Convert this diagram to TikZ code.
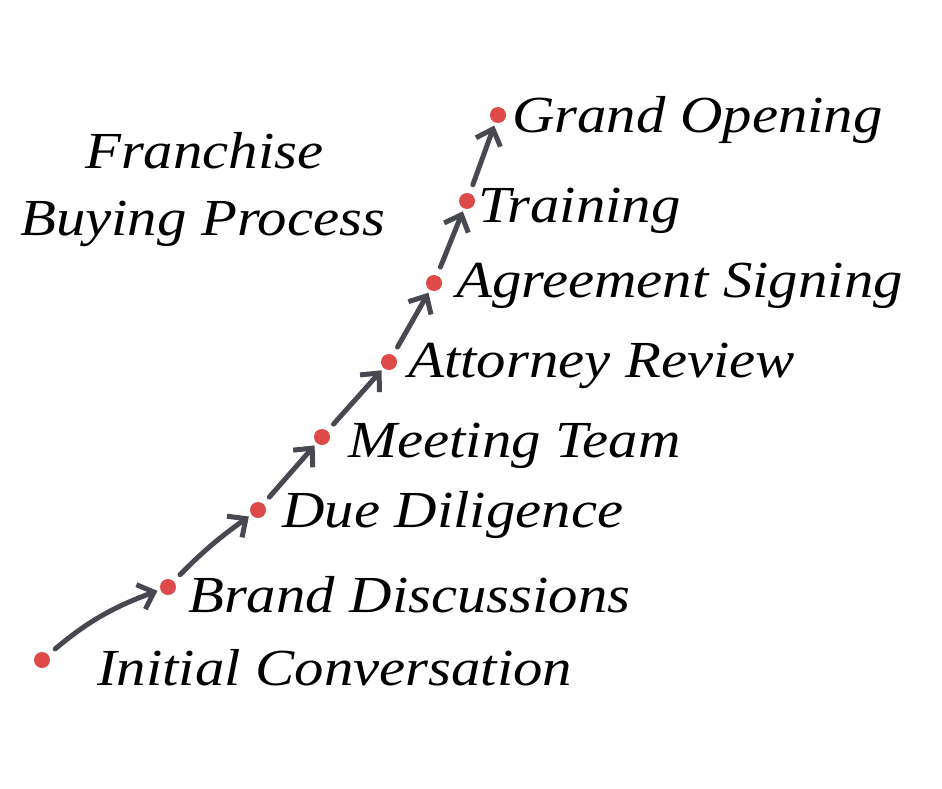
\documentclass[tikz,border=0pt]{standalone}
\usepackage{fontspec}
\setmainfont{Liberation Serif}[FakeStretch=1.13]
\usetikzlibrary{arrows.meta}
\definecolor{dotred}{RGB}{222,74,74}
\definecolor{arrowgray}{RGB}{72,72,80}
\tikzset{
  stepdot/.style={circle,fill=dotred,inner sep=0pt,minimum size=16pt},
  steplabel/.style={anchor=base west,inner sep=0pt,font=\fontsize{52}{60}\selectfont\itshape},
  arr/.style={draw=arrowgray,line width=5pt,line cap=round,
    -{Straight Barb[length=14pt,width=26pt,line width=5pt]},shorten <=9pt,shorten >=3pt},
}
\begin{document}
\begin{tikzpicture}[x=1pt,y=-1pt]
\useasboundingbox (0,0) rectangle (942,789);

% title
\node[steplabel] (title1) at (85,168) {Franchise};
\node[steplabel] (title2) at (20,235) {Buying Process};

% dots
\node[stepdot] (initconv) at (42,660) {};
\node[stepdot] (brand) at (168,587) {};
\node[stepdot] (due) at (258,510) {};
\node[stepdot] (meet) at (322,437) {};
\node[stepdot] (attorney) at (389,362) {};
\node[stepdot] (agree) at (434,283) {};
\node[stepdot] (train) at (467,201) {};
\node[stepdot] (grand) at (498,115) {};

% labels
\node[steplabel] (l1) at (97,685) {Initial Conversation};
\node[steplabel] (l2) at (188,612) {Brand Discussions};
\node[steplabel] (l3) at (282,527) {Due Diligence};
\node[steplabel] (l4) at (348,457) {Meeting Team};
\node[steplabel] (l5) at (408,377) {Attorney Review};
\node[steplabel] (l6) at (456,297) {Agreement Signing};
\node[steplabel] (l7) at (478,222) {Training};
\node[steplabel] (l8) at (512,133) {Grand Opening};

% arrows
\draw[arr] (initconv) to[bend left=10] (brand);
\draw[arr] (brand) to[bend left=5] (due);
\draw[arr] (due) -- (meet);
\draw[arr] (meet) -- (attorney);
\draw[arr] (attorney) -- (agree);
\draw[arr] (agree) -- (train);
\draw[arr] (train) -- (grand);
\end{tikzpicture}
\end{document}
